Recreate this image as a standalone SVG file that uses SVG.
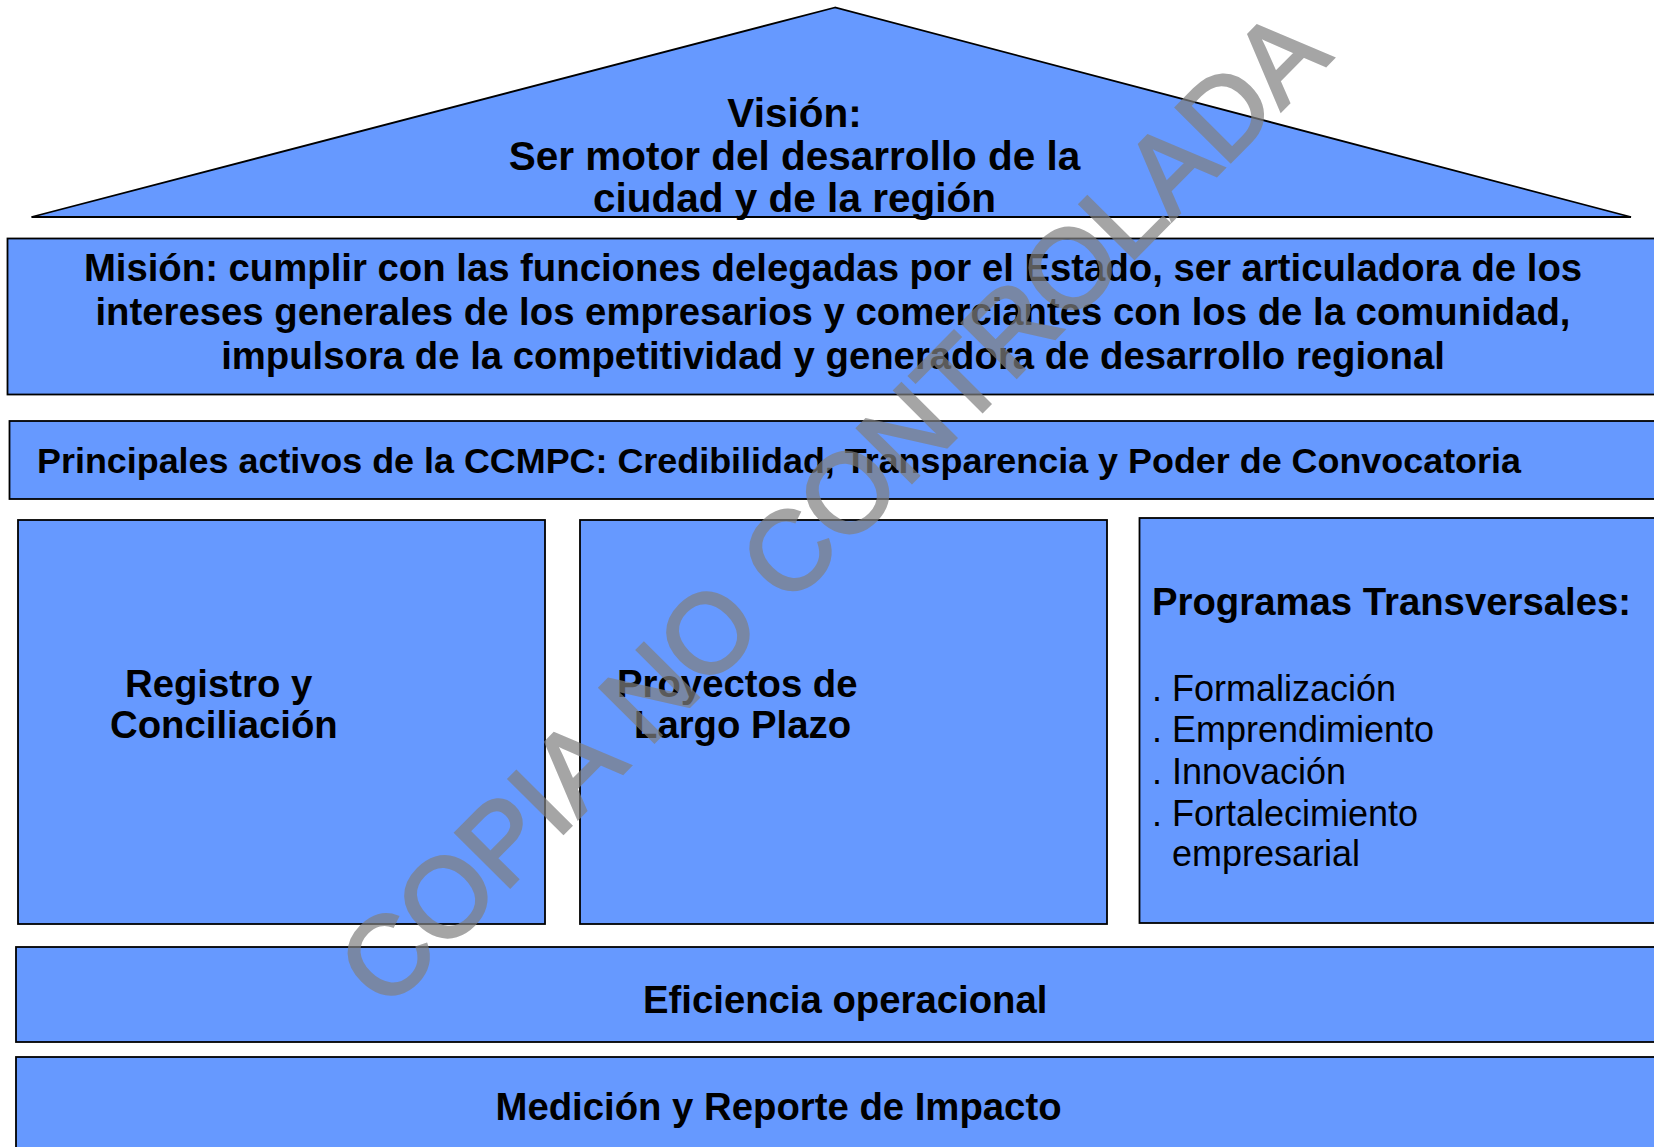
<svg xmlns="http://www.w3.org/2000/svg" width="1654" height="1147" viewBox="0 0 1654 1147">
<style>
.box{fill:#6699ff;stroke:#000;stroke-width:1.8}
.b{font-family:"Liberation Sans",Arial,sans-serif;font-weight:bold;font-size:38.3px;fill:#000}
.r{font-family:"Liberation Sans",Arial,sans-serif;font-size:36px;fill:#000}
.wm{font-family:"Liberation Sans",Arial,sans-serif;font-size:111.5px;fill:#808080;stroke:#808080;stroke-width:3;opacity:0.7}
</style>
<rect width="1654" height="1147" fill="#fff"/>
<g id="vision">
<polygon class="box" points="835,7.5 31.5,217 1631,217"/>
<text class="b" style="font-size:40.5px" text-anchor="middle" x="794.5" y="127">Visión:</text>
<text class="b" style="font-size:40.5px" text-anchor="middle" x="794.5" y="170">Ser motor del desarrollo de la</text>
<text class="b" style="font-size:40.5px" text-anchor="middle" x="794.5" y="212">ciudad y de la región</text>
</g>
<g id="mision">
<rect class="box" x="7.5" y="238.5" width="1660" height="156"/>
<text class="b" text-anchor="middle" x="833" y="281">Misión: cumplir con las funciones delegadas por el Estado, ser articuladora de los</text>
<text class="b" text-anchor="middle" x="833" y="325">intereses generales de los empresarios y comerciantes con los de la comunidad,</text>
<text class="b" text-anchor="middle" x="833" y="369">impulsora de la competitividad y generadora de desarrollo regional</text>
</g>
<g id="principales">
<rect class="box" x="9.5" y="421" width="1660" height="78"/>
<text class="b" style="font-size:35.9px" x="37" y="473">Principales activos de la CCMPC: Credibilidad, Transparencia y Poder de Convocatoria</text>
</g>
<g id="registro">
<rect class="box" x="18" y="520" width="527" height="404"/>
<text class="b" x="125" y="697">Registro y</text>
<text class="b" x="110" y="738">Conciliación</text>
</g>
<g id="proyectos">
<rect class="box" x="580" y="520" width="527" height="404"/>
<text class="b" x="617" y="697">Proyectos de</text>
<text class="b" x="634" y="738">Largo Plazo</text>
</g>
<g id="programas">
<rect class="box" x="1139.5" y="518" width="530" height="405"/>
<text class="b" x="1152" y="614.5">Programas Transversales:</text>
<text class="r" x="1152" y="700.5">. Formalización</text>
<text class="r" x="1152" y="742">. Emprendimiento</text>
<text class="r" x="1152" y="784">. Innovación</text>
<text class="r" x="1152" y="826">. Fortalecimiento</text>
<text class="r" x="1172" y="866">empresarial</text>
</g>
<g id="eficiencia">
<rect class="box" x="16" y="947" width="1660" height="95"/>
<text class="b" x="643" y="1013">Eficiencia operacional</text>
</g>
<g id="medicion">
<rect class="box" x="16" y="1057" width="1660" height="120"/>
<text class="b" x="495.5" y="1120">Medición y Reporte de Impacto</text>
</g>
<g id="connectors"/>
<g id="watermark">
<text class="wm" transform="translate(386,1012) rotate(-45.2)" x="0" y="0">COPIA NO CONTROLADA</text>
</g>
</svg>
